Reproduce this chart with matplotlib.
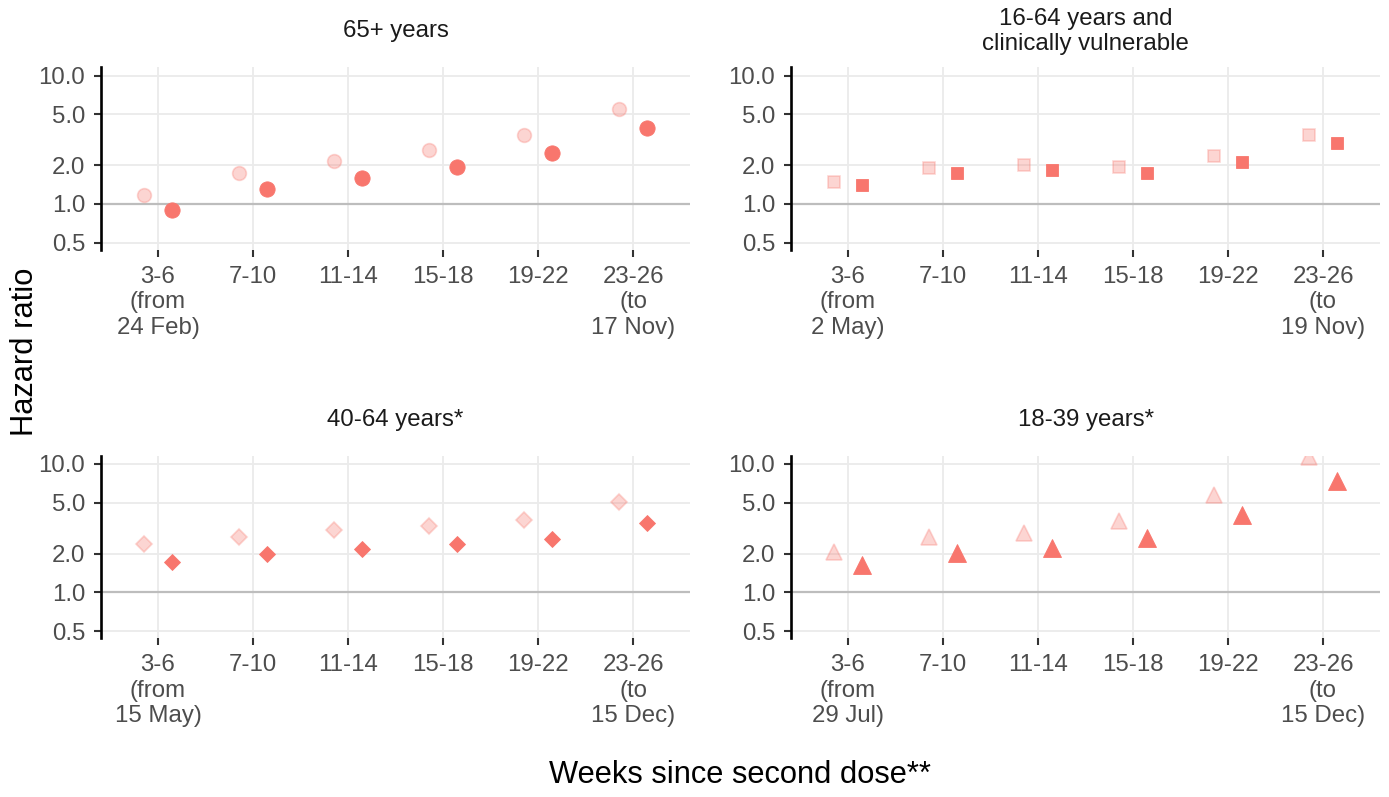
import matplotlib.pyplot as plt
from matplotlib.ticker import NullLocator

plt.rcParams['font.family'] = ['Liberation Sans', 'DejaVu Sans']

# --- data ---
weeks = ["3-6", "7-10", "11-14", "15-18", "19-22", "23-26"]

titles = ["65+ years", "16-64 years and\nclinically vulnerable",
          "40-64 years*", "18-39 years*"]
start_dates = ["24 Feb", "2 May", "15 May", "29 Jul"]
end_dates = ["17 Nov", "19 Nov", "15 Dec", "15 Dec"]
markers = ["o", "s", "D", "^"]
marker_sizes = [11.0, 9.2, 8.6, 12.5]

# pale (left) points and solid (right) points, hazard ratio
hr_pale_65 = [1.17, 1.73, 2.16, 2.64, 3.47, 5.53]
hr_solid_65 = [0.89, 1.30, 1.59, 1.93, 2.51, 3.93]
hr_pale_cv = [1.48, 1.90, 2.00, 1.93, 2.38, 3.43]
hr_solid_cv = [1.40, 1.75, 1.83, 1.73, 2.11, 3.00]
hr_pale_40 = [2.37, 2.71, 3.04, 3.30, 3.66, 5.03]
hr_solid_40 = [1.73, 1.98, 2.18, 2.37, 2.60, 3.45]
hr_pale_18 = [2.07, 2.68, 2.92, 3.59, 5.70, 11.3]
hr_solid_18 = [1.63, 2.04, 2.21, 2.65, 3.98, 7.37]

pale = [hr_pale_65, hr_pale_cv, hr_pale_40, hr_pale_18]
solid = [hr_solid_65, hr_solid_cv, hr_solid_40, hr_solid_18]

y_breaks = [0.5, 1, 2, 5, 10]
y_labels = ["0.5", "1.0", "2.0", "5.0", "10.0"]

red = "#F8766D"
W, H = 1389, 797
fs = 17.3

fig = plt.figure(figsize=(W / 100, H / 100), dpi=100)

lefts = [101, 791, 101, 791]
tops = [67.3, 67.3, 455.7, 455.7]
pw, ph = 589, 182.7

x = list(range(1, len(weeks) + 1))
dodge = 0.15

for i in range(4):
    ax = fig.add_axes([lefts[i] / W, 1 - (tops[i] + ph) / H, pw / W, ph / H])
    ax.set_yscale("log")
    ax.set_ylim(0.438, 11.6)
    ax.set_xlim(0.4, 6.6)

    ax.set_yticks(y_breaks)
    ax.set_yticklabels(y_labels)
    ax.yaxis.set_minor_locator(NullLocator())

    labels = list(weeks)
    labels[0] = f"{weeks[0]}\n(from\n{start_dates[i]})"
    labels[-1] = f"{weeks[-1]}\n(to\n{end_dates[i]})"
    ax.set_xticks(x)
    ax.set_xticklabels(labels, linespacing=1.2)

    ax.grid(True, color="#EBEBEB", linewidth=1.3)
    ax.set_axisbelow(True)
    ax.axhline(1.0, color="#BDBDBD", linewidth=1.6, zorder=1.5)

    for s in ["top", "right", "bottom"]:
        ax.spines[s].set_visible(False)
    ax.spines["left"].set_linewidth(1.9)
    ax.spines["left"].set_color("black")

    ax.tick_params(axis="both", length=5, width=1.5, color="#333333",
                   labelcolor="#4D4D4D", labelsize=fs, pad=6.5)

    xp = [v - dodge for v in x]
    xs = [v + dodge for v in x]
    ax.plot(xp, pale[i], linestyle="none", marker=markers[i],
            ms=marker_sizes[i] * 0.9, color=red, alpha=0.3,
            markeredgewidth=1.2, zorder=3)
    ax.plot(xs, solid[i], linestyle="none", marker=markers[i],
            ms=marker_sizes[i], color=red, markeredgewidth=0.6, zorder=4)

    fig.text((lefts[i] + pw / 2) / W, 1 - (tops[i] - 36) / H, titles[i],
             ha="center", va="center", fontsize=fs, color="#1A1A1A",
             linespacing=1.2)

fig.text(740 / W, 1 - 775 / H, "Weeks since second dose**",
         ha="center", va="center", fontsize=22.2)
fig.text(25 / W, 1 - 352 / H, "Hazard ratio", ha="center", va="center",
         fontsize=22.2, rotation=90)

fig.savefig("out.png", dpi=100)
